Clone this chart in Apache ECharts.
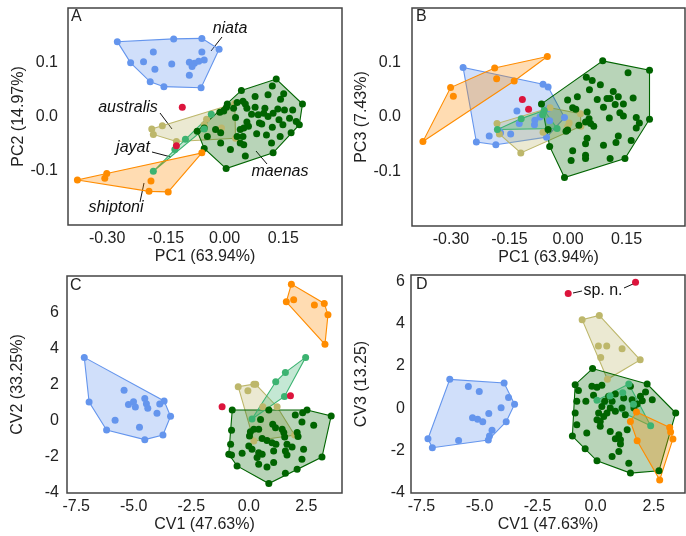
<!DOCTYPE html>
<html><head><meta charset="utf-8">
<script src="https://cdn.jsdelivr.net/npm/echarts@6/dist/echarts.min.js"></script>
<style>html,body{margin:0;padding:0;background:#fff}#c{width:686px;height:536px}</style>
</head><body><div id="c"></div>
<script>
// ---------- Panel A: PC1 vs PC2 ----------
const A_niata = [[-0.274,0.138],[-0.130,0.143],[-0.058,0.144],[-0.014,0.124],[-0.182,0.119],[-0.058,0.119],[-0.240,0.099],[-0.207,0.101],[-0.135,0.097],[-0.090,0.100],[-0.077,0.098],[-0.066,0.102],[-0.052,0.104],[-0.178,0.087],[-0.083,0.092],[-0.090,0.076],[-0.190,0.064],[-0.155,0.055],[-0.060,0.053]];
const A_australis = [[-0.186,-0.023],[-0.159,-0.017],[-0.182,-0.033],[-0.123,-0.046],[-0.052,-0.015],[-0.046,-0.005],[-0.008,-0.021],[0.026,0.024],[0.028,-0.040]];
const A_jayat = [[-0.182,-0.101],[-0.127,-0.061],[-0.100,-0.042],[-0.052,-0.023],[-0.034,0.004]];
const A_shiptoni = [[-0.376,-0.117],[-0.301,-0.105],[-0.306,-0.114],[-0.188,-0.119],[-0.193,-0.138],[-0.144,-0.139],[-0.058,-0.067]];
const A_spn = [[-0.108,0.017],[-0.123,-0.054]];
const A_maenas = [[0.132,0.069],[0.043,0.048],[0.078,0.037],[0.122,0.056],[0.151,0.042],[0.143,0.032],[0.111,0.040],[0.047,0.028],[0.053,0.023],[0.032,0.026],[0.007,0.023],[0.005,0.017],[0.057,0.015],[0.028,-0.002],[-0.002,0.010],[-0.012,0.008],[0.078,0.017],[0.103,0.015],[0.100,0.006],[0.136,0.014],[0.153,0.012],[0.174,0.012],[0.199,0.023],[0.069,0.004],[0.086,0.003],[0.111,0.000],[0.124,0.006],[0.139,-0.006],[0.166,-0.003],[0.183,-0.009],[0.191,-0.015],[0.057,-0.010],[0.049,-0.021],[0.040,-0.024],[0.061,-0.018],[0.089,-0.012],[0.095,-0.014],[0.122,-0.020],[0.149,-0.015],[0.170,-0.030],[0.082,-0.032],[0.107,-0.034],[0.047,-0.037],[0.032,-0.037],[-0.010,-0.030],[-0.023,-0.024],[-0.052,-0.021],[-0.070,-0.027],[-0.044,-0.037],[-0.010,-0.049],[0.040,-0.049],[0.049,-0.052],[0.120,-0.049],[0.142,-0.037],[-0.052,-0.059],[0.015,-0.061],[0.053,-0.073],[0.124,-0.067],[0.004,-0.096],[0.023,0.015]];

// ---------- Panel B: PC1 vs PC3 ----------
const B_niata = [[-0.269,0.091],[-0.064,0.060],[-0.051,0.055],[-0.131,0.011],[-0.202,-0.035],[-0.235,-0.046],[-0.185,-0.051],[-0.147,-0.031],[-0.173,-0.029],[-0.125,-0.012],[-0.085,-0.006],[-0.072,0.000],[-0.086,-0.014],[-0.047,-0.007],[-0.009,-0.001],[-0.055,-0.037],[-0.051,0.015],[-0.177,-0.025]];
const B_australis = [[-0.182,-0.012],[-0.176,-0.031],[-0.121,-0.066],[-0.046,0.017],[0.032,0.006],[0.033,-0.017],[-0.064,-0.028],[0.003,-0.011],[-0.001,-0.018]];
const B_jayat = [[-0.181,-0.023],[-0.120,-0.003],[-0.061,0.012],[-0.028,-0.021],[-0.065,0.004]];
const B_shiptoni = [[-0.372,-0.045],[-0.301,0.054],[-0.294,0.038],[-0.188,0.090],[-0.183,0.070],[-0.138,0.066],[-0.053,0.111]];
const B_spn = [[-0.117,0.032],[-0.101,0.014]];
const B_maenas = [[0.089,0.103],[0.209,0.086],[0.154,0.081],[0.047,0.073],[0.062,0.067],[0.083,0.059],[0.055,0.050],[0.116,0.047],[0.108,0.034],[0.129,0.037],[0.167,0.035],[0.024,0.037],[-0.001,0.031],[0.075,0.032],[0.100,0.034],[0.121,0.023],[0.091,0.018],[0.142,0.024],[0.012,0.017],[0.020,0.014],[0.049,0.009],[0.133,0.008],[0.142,0.002],[0.106,-0.002],[0.175,-0.001],[0.209,-0.004],[0.183,-0.011],[0.175,-0.020],[0.054,-0.003],[0.045,-0.009],[0.066,-0.017],[0.058,-0.012],[0.028,-0.015],[-0.001,-0.024],[-0.005,-0.026],[-0.068,0.024],[-0.051,-0.023],[-0.047,-0.054],[0.129,-0.035],[0.049,-0.039],[0.045,-0.049],[0.091,-0.052],[0.162,-0.043],[0.123,-0.047],[0.012,-0.062],[0.045,-0.070],[0.045,-0.076],[0.008,-0.080],[0.108,-0.076],[0.146,-0.076],[-0.009,-0.111]];

// ---------- Panel C: CV1 vs CV2 ----------
const C_niata = [[-7.15,3.50],[-6.94,1.03],[-6.18,-0.52],[-5.81,0.02],[-5.42,1.68],[-5.23,0.90],[-5.01,1.05],[-4.93,0.76],[-4.52,1.23],[-4.45,0.94],[-4.39,0.68],[-4.75,-0.37],[-4.52,-1.05],[-3.99,0.41],[-3.87,0.92],[-3.68,1.09],[-3.73,-0.79],[-3.40,0.24]];
const C_australis = [[-0.46,1.88],[-0.04,1.66],[0.30,2.01],[0.22,2.02],[0.61,0.77],[1.23,0.77],[1.99,-0.79],[0.22,-1.12]];
const C_jayat = [[0.14,0.09],[1.17,2.15],[1.59,2.67],[1.55,1.34],[2.47,3.50]];
const C_shiptoni = [[1.85,7.55],[1.63,6.57],[1.95,6.69],[2.85,6.39],[3.28,6.48],[3.44,5.86],[3.31,4.22]];
const C_spn = [[-1.16,0.77],[1.81,1.38]];
const C_maenas = [[-0.72,0.59],[0.87,0.59],[2.53,0.59],[2.34,0.44],[2.02,0.31],[3.58,0.26],[0.51,0.07],[1.04,-0.20],[1.16,-0.39],[2.82,-0.26],[2.31,-0.07],[0.22,-0.48],[0.43,-0.48],[0.07,-0.61],[-0.75,-0.53],[0.03,-0.85],[0.58,-0.98],[0.79,-1.09],[1.45,-0.48],[1.52,-0.66],[2.10,-0.66],[2.14,-0.88],[1.56,-0.90],[1.01,-1.22],[1.18,-1.31],[1.66,-1.31],[1.88,-1.45],[1.59,-1.68],[1.66,-1.90],[2.38,-1.58],[-0.79,-1.31],[0.00,-1.40],[0.14,-1.58],[0.43,-1.77],[0.58,-1.86],[-0.29,-1.80],[-0.87,-1.86],[-0.75,-1.90],[0.36,-2.04],[1.08,-1.68],[2.31,-2.14],[3.18,-2.01],[-0.51,-2.50],[0.43,-2.41],[0.79,-2.56],[1.08,-2.32],[1.59,-2.91],[2.10,-2.69],[0.87,-3.48]];

// ---------- Panel D: CV1 vs CV3 ----------
const D_niata = [[-6.28,1.37],[-5.48,1.03],[-5.01,0.79],[-3.94,1.20],[-3.75,0.51],[-3.49,0.19],[-4.07,0.03],[-4.60,-0.24],[-5.30,-0.44],[-5.08,-0.52],[-4.86,-0.63],[-3.85,-0.63],[-4.46,-1.04],[-4.57,-1.31],[-4.62,-1.50],[-5.90,-1.52],[-7.22,-1.44],[-7.03,-1.86]];
const D_australis = [[-0.58,4.19],[0.16,4.39],[0.12,2.95],[0.48,2.95],[0.22,2.40],[1.14,2.81],[1.92,2.29],[0.51,1.37]];
const D_jayat = [[0.06,0.38],[1.43,1.15],[2.37,-0.82],[1.17,0.74],[1.63,0.19],[0.62,0.58]];
const D_shiptoni = [[1.76,-0.17],[1.50,-0.62],[1.79,-1.53],[3.19,-0.90],[3.23,-1.12],[3.33,-1.45],[2.76,-3.38]];
const D_spn = [[-1.18,5.43],[1.72,5.96]];
const D_maenas = [[-0.13,1.88],[-0.88,1.12],[-0.74,0.84],[-0.16,1.04],[0.06,1.00],[0.27,1.09],[1.50,1.04],[2.22,1.15],[2.15,0.77],[-0.81,0.33],[-0.42,0.33],[-0.09,0.62],[0.56,0.57],[0.85,0.68],[1.21,0.49],[1.93,0.57],[2.01,0.36],[2.44,0.41],[1.79,0.21],[0.71,0.33],[0.27,0.09],[0.63,0.02],[0.85,-0.14],[1.14,0.02],[0.49,-0.22],[0.35,-0.38],[0.06,-0.54],[0.20,-0.62],[0.20,-0.85],[-0.88,-0.22],[-0.81,-0.77],[-0.38,-1.17],[0.63,-1.09],[1.00,-1.25],[0.85,-1.44],[1.07,-1.48],[1.36,-1.01],[-1.00,-1.31],[1.00,-2.04],[0.71,-2.27],[-0.45,-1.91],[0.06,-2.48],[1.43,-2.59],[1.50,-3.06],[2.73,-2.95],[3.45,-0.22],[1.07,-1.69],[0.13,-0.22],[1.57,0.41],[1.28,-0.30],[0.39,0.33],[1.65,0.02]];

// tick values
const pcTicksX = [-0.30,-0.15,0.00,0.15];
const pcTicksY = [-0.1,0.0,0.1];
const cvTicksX = [-7.5,-5.0,-2.5,0.0,2.5];
const cvTicksY = [-4,-2,0,2,4,6];

const panelNames = ['A','B','C','D'];
const xNames = ['PC1 (63.94%)','PC1 (63.94%)','CV1 (47.63%)','CV1 (47.63%)'];
const yNames = ['PC2 (14.97%)','PC3 (7.43%)','CV2 (33.25%)','CV3 (13.25)'];

const species = [
  {key:'niata', color:'#6495ED', fill:'rgba(100,149,237,0.3)'},
  {key:'australis', color:'#BDB76B', fill:'rgba(189,183,107,0.3)'},
  {key:'maenas', color:'#006400', fill:'rgba(0,100,0,0.28)'},
  {key:'jayat', color:'#3CB371', fill:'rgba(60,179,113,0.3)'},
  {key:'shiptoni', color:'#FF8C00', fill:'rgba(255,140,0,0.3)'},
  {key:'spn', color:'#DC143C', fill:null}
];
const panelData = [
  {niata:A_niata, australis:A_australis, maenas:A_maenas, jayat:A_jayat, shiptoni:A_shiptoni, spn:A_spn},
  {niata:B_niata, australis:B_australis, maenas:B_maenas, jayat:B_jayat, shiptoni:B_shiptoni, spn:B_spn},
  {niata:C_niata, australis:C_australis, maenas:C_maenas, jayat:C_jayat, shiptoni:C_shiptoni, spn:C_spn},
  {niata:D_niata, australis:D_australis, maenas:D_maenas, jayat:D_jayat, shiptoni:D_shiptoni, spn:D_spn}
];

function convexHull(pts){
  const p = pts.slice().sort((a,b)=>a[0]-b[0]||a[1]-b[1]);
  const cross=(o,a,b)=>(a[0]-o[0])*(b[1]-o[1])-(a[1]-o[1])*(b[0]-o[0]);
  const lo=[];for(const q of p){while(lo.length>=2&&cross(lo[lo.length-2],lo[lo.length-1],q)<=0)lo.pop();lo.push(q);}
  const up=[];for(let i=p.length-1;i>=0;i--){const q=p[i];while(up.length>=2&&cross(up[up.length-2],up[up.length-1],q)<=0)up.pop();up.push(q);}
  lo.pop();up.pop();return lo.concat(up);
}

const FONT = 'Arial, "Liberation Sans", sans-serif';
const grids = [
  {left:68, top:8, width:274, height:217},
  {left:412, top:8, width:273, height:218},
  {left:67, top:276, width:275, height:217},
  {left:411, top:275, width:274, height:218}
];
const xRanges = [[-0.4,0.3],[-0.4,0.3],[-7.9,4.05],[-7.95,3.85]];
const yRanges = [[-0.2,0.2],[-0.2,0.2],[-4,8],[-4,6.3]];
const yLabelMargin = [10,11,8,6];

const option = {
  animation:false,
  backgroundColor:'#fff',
  textStyle:{fontFamily:FONT},
  grid: grids.map(g=>Object.assign({show:true, borderColor:'#444', borderWidth:1.5, backgroundColor:'transparent'}, g)),
  xAxis: grids.map((g,i)=>({
    gridIndex:i, type:'value', min:xRanges[i][0], max:xRanges[i][1],
    name:xNames[i], nameLocation:'middle', nameGap:24,
    nameTextStyle:{fontSize:16, color:'#222', fontFamily:FONT},
    axisLine:{show:false}, axisTick:{show:false}, splitLine:{show:false},
    axisLabel:{customValues: i<2?pcTicksX:cvTicksX, margin:6, fontSize:16, color:'#222', fontFamily:FONT,
      formatter: v => i<2 ? v.toFixed(2) : v.toFixed(1)}
  })),
  yAxis: grids.map((g,i)=>({
    gridIndex:i, type:'value', min:yRanges[i][0], max:yRanges[i][1],
    name:yNames[i], nameLocation:'middle', nameGap:41,
    nameTextStyle:{fontSize:16, color:'#222', fontFamily:FONT},
    axisLine:{show:false}, axisTick:{show:false}, splitLine:{show:false},
    axisLabel:{customValues: i<2?pcTicksY:cvTicksY, margin:yLabelMargin[i], fontSize:16, color:'#222', fontFamily:FONT,
      formatter: v => i<2 ? v.toFixed(1) : String(Math.round(v))}
  })),
  series: [],
  graphic: []
};

panelData.forEach((pd, pi)=>{
  species.forEach(sp=>{
    const pts = pd[sp.key];
    if (sp.fill && pts.length>=3){
      const h = convexHull(pts);
      option.series.push({
        type:'custom', xAxisIndex:pi, yAxisIndex:pi, silent:true, clip:true,
        data:[h[0]],
        renderItem:(params, api)=>({
          type:'polygon',
          shape:{points:h.map(p=>api.coord(p))},
          style:{fill:sp.fill, stroke:sp.color, lineWidth:1.1}
        })
      });
    }
    option.series.push({
      type:'scatter', xAxisIndex:pi, yAxisIndex:pi, data:pts, symbolSize:7,
      itemStyle:{color:sp.color, opacity:1}, silent:true
    });
  });
});

// panel letters
const letterPos = [[71,9],[416,9],[70,278],[416,277]];
panelNames.forEach((n,i)=>option.graphic.push({type:'text', left:letterPos[i][0], top:letterPos[i][1],
  style:{text:n, font:'16px '+FONT, fill:'#222'}}));

// annotations in panel A
const annot = [
  {t:'niata', x:230, y:29, l:[211,51,222,37]},
  {t:'australis', x:128, y:108, l:[160,113,172,129]},
  {t:'jayat', x:133, y:148, l:[152,152,171,157]},
  {t:'shiptoni', x:116, y:208, l:[140,202,144,183]},
  {t:'maenas', x:280, y:172, l:[267,164,256,151]}
];
annot.forEach(a=>{
  option.graphic.push({type:'text', x:a.x, y:a.y, style:{text:a.t, font:'italic 16px '+FONT, fill:'#111', align:'center', verticalAlign:'middle'}});
  option.graphic.push({type:'line', shape:{x1:a.l[0],y1:a.l[1],x2:a.l[2],y2:a.l[3]}, style:{stroke:'#111', lineWidth:1}});
});
// sp. n. label in panel D
option.graphic.push({type:'text', x:603, y:291, style:{text:'sp. n.', font:'16px '+FONT, fill:'#111', align:'center', verticalAlign:'middle'}});
option.graphic.push({type:'line', shape:{x1:573,y1:293,x2:582,y2:291}, style:{stroke:'#111', lineWidth:1}});
option.graphic.push({type:'line', shape:{x1:624,y1:288,x2:633,y2:284}, style:{stroke:'#111', lineWidth:1}});

const chart = echarts.init(document.getElementById('c'), null, {renderer:'canvas'});
chart.setOption(option);
</script>
</body></html>
